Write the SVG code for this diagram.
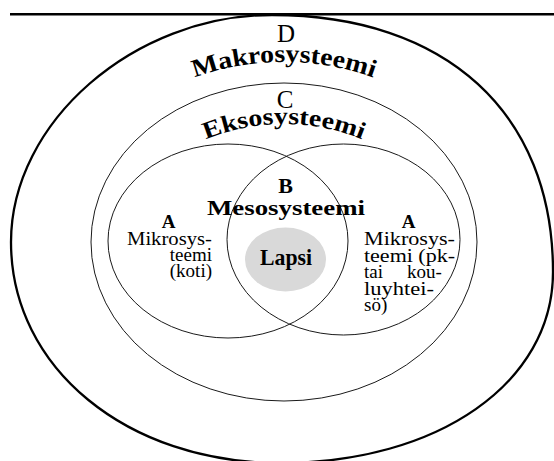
<svg xmlns="http://www.w3.org/2000/svg" width="554" height="461" viewBox="0 0 554 461">
  <style>
    .thick { fill: none; stroke: #000; stroke-width: 2.3; }
    .thin { fill: none; stroke: #1a1a1a; stroke-width: 1; }
    .lbl { font-family: "Liberation Serif", "Times New Roman", serif; fill: #000; }
    .big { font-size: 25px; }
    .bold { font-weight: bold; }
    .body { font-size: 19px; }
  </style>
  <defs>
    <path id="arcD" d="M170,88 A262.7,262.7 0 0 1 398,88"/>
    <path id="arcC" d="M190,146.8 A205,205 0 0 1 378,146.8"/>
  </defs>

  <g id="top-rule">
    <line x1="10" y1="14.3" x2="554" y2="14.3" stroke="#000" stroke-width="2.6"/>
  </g>

  <g id="node-D-makrosysteemi">
    <path class="thick" d="M272,15 C446,15 553,113 553,272 C553,383 438,463 280,463 C127,463 11,368 11,242 C11,122 134,15 272,15 Z"/>
    <text class="lbl big" x="286" y="42" text-anchor="middle">D</text>
    <text class="lbl bold" font-size="25" textLength="182" lengthAdjust="spacingAndGlyphs"><textPath href="#arcD" startOffset="50%" text-anchor="middle">Makrosysteemi</textPath></text>
  </g>

  <g id="node-C-eksosysteemi">
    <ellipse class="thin" cx="284" cy="242" rx="193" ry="159"/>
    <text class="lbl big" x="285" y="108" text-anchor="middle">C</text>
    <text class="lbl bold" font-size="24" textLength="160" lengthAdjust="spacingAndGlyphs"><textPath href="#arcC" startOffset="50%" text-anchor="middle">Eksosysteemi</textPath></text>
  </g>

  <g id="node-A-koti">
    <ellipse class="thin" cx="228" cy="241" rx="120" ry="97"/>
    <text class="lbl bold body" x="168.5" y="228" text-anchor="middle">A</text>
    <text class="lbl body" x="127" y="245" textLength="85" lengthAdjust="spacingAndGlyphs">Mikrosys-</text>
    <text class="lbl body" x="212" y="261" text-anchor="end">teemi</text>
    <text class="lbl body" x="212" y="277" text-anchor="end">(koti)</text>
  </g>

  <g id="node-A-koulu">
    <ellipse class="thin" cx="343.5" cy="239.5" rx="116.5" ry="95.5"/>
    <text class="lbl bold body" x="408.5" y="228" text-anchor="middle">A</text>
    <text class="lbl body" x="364" y="245" textLength="91" lengthAdjust="spacingAndGlyphs">Mikrosys-</text>
    <text class="lbl body" x="364" y="261.5" textLength="91" lengthAdjust="spacingAndGlyphs">teemi (pk-</text>
    <text class="lbl body" x="364" y="278">tai <tspan x="407">kou-</tspan></text>
    <text class="lbl body" x="364" y="294.5" textLength="70" lengthAdjust="spacingAndGlyphs">luyhtei-</text>
    <text class="lbl body" x="364" y="311">sö)</text>
  </g>

  <g id="node-B-mesosysteemi">
    <text class="lbl bold" font-size="22" x="285.5" y="193" text-anchor="middle">B</text>
    <text class="lbl bold" font-size="22" x="207" y="215" textLength="158" lengthAdjust="spacingAndGlyphs">Mesosysteemi</text>
  </g>

  <g id="node-lapsi">
    <ellipse cx="285.5" cy="259.5" rx="40.5" ry="32" fill="#d9d9d9"/>
    <text class="lbl bold" font-size="23" x="260" y="265" textLength="52" lengthAdjust="spacingAndGlyphs">Lapsi</text>
  </g>

  <g id="connectors"></g>
</svg>
